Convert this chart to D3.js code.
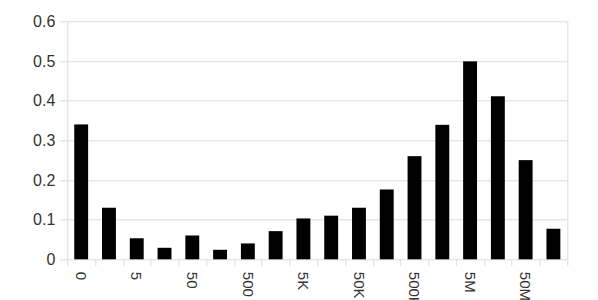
<!DOCTYPE html>
<html>
<head>
<meta charset="utf-8">
<script src="https://cdn.jsdelivr.net/npm/d3@7"></script>
<style>
  body { margin: 0; background: #fff; }
  text { font-family: "Liberation Sans", Arial, sans-serif; fill: #333; }
</style>
</head>
<body>
<div id="chart"></div>
<script>
// categories (log buckets); only every other one has a visible label
var categories = d3.range(18);
var tickLabels = ["0", "", "5", "", "50", "", "500", "", "5K", "", "50K", "", "500K", "", "5M", "", "50M", ""];
var values = [0.340, 0.130, 0.053, 0.029, 0.060, 0.024, 0.040, 0.071, 0.103, 0.110, 0.130, 0.176, 0.260, 0.339, 0.499, 0.411, 0.250, 0.077];
var yTicks = [0, 0.1, 0.2, 0.3, 0.4, 0.5, 0.6];

var margin = {top: 21.3, right: 30.7, bottom: 40.7, left: 67.3},
    width = 598 - margin.left - margin.right,
    height = 300 - margin.top - margin.bottom;

var svg = d3.select("#chart").append("svg")
    .attr("width", 598)
    .attr("height", 300)
  .append("g")
    .attr("transform", "translate(" + margin.left + "," + margin.top + ")");

var x = d3.scaleBand()
    .domain(categories)
    .range([0, width])
    .paddingInner(0.5)
    .paddingOuter(0.25);

var y = d3.scaleLinear()
    .domain([0, 0.6])
    .range([height, 0]);

// gridlines
svg.selectAll(".grid")
    .data(yTicks)
  .enter().append("line")
    .attr("x1", -7)
    .attr("x2", width)
    .attr("y1", function(d) { return Math.round(y(d)) + 0.5; })
    .attr("y2", function(d) { return Math.round(y(d)) + 0.5; })
    .attr("stroke", "#dcdcdc");

// right border and left axis
svg.append("line")
    .attr("x1", width + 0.5).attr("x2", width + 0.5)
    .attr("y1", 0).attr("y2", height + 7)
    .attr("stroke", "#dcdcdc");
svg.append("line")
    .attr("x1", 0.5).attr("x2", 0.5)
    .attr("y1", 0).attr("y2", height + 7)
    .attr("stroke", "#dcdcdc");

// x ticks at category boundaries
svg.selectAll(".xtick")
    .data(categories.slice(1))
  .enter().append("line")
    .attr("x1", function(d) { return Math.round(x(d) - x.step() * 0.25) + 0.5; })
    .attr("x2", function(d) { return Math.round(x(d) - x.step() * 0.25) + 0.5; })
    .attr("y1", height)
    .attr("y2", height + 7)
    .attr("stroke", "#dcdcdc");

// y labels
svg.selectAll(".ylabel")
    .data(yTicks)
  .enter().append("text")
    .attr("x", -12)
    .attr("y", function(d) { return y(d); })
    .attr("dy", "0.35em")
    .attr("text-anchor", "end")
    .style("font-size", "16px")
    .text(function(d) { return d === 0 ? "0" : d3.format(".1f")(d); });

// bars
svg.selectAll(".bar")
    .data(values)
  .enter().append("rect")
    .attr("class", "bar")
    .attr("x", function(d, i) { return x(categories[i]); })
    .attr("width", x.bandwidth())
    .attr("y", function(d) { return y(d); })
    .attr("height", function(d) { return height - y(d); })
    .attr("fill", "#000");

// x labels, rotated
svg.selectAll(".xlabel")
    .data(categories)
  .enter().append("text")
    .attr("transform", function(d) {
      return "translate(" + (x(d) + x.bandwidth() / 2) + "," + (height + 12.5) + ") rotate(90)";
    })
    .attr("dy", "0.35em")
    .style("font-size", "15px")
    .text(function(d, i) { return tickLabels[i]; });
</script>
</body>
</html>
